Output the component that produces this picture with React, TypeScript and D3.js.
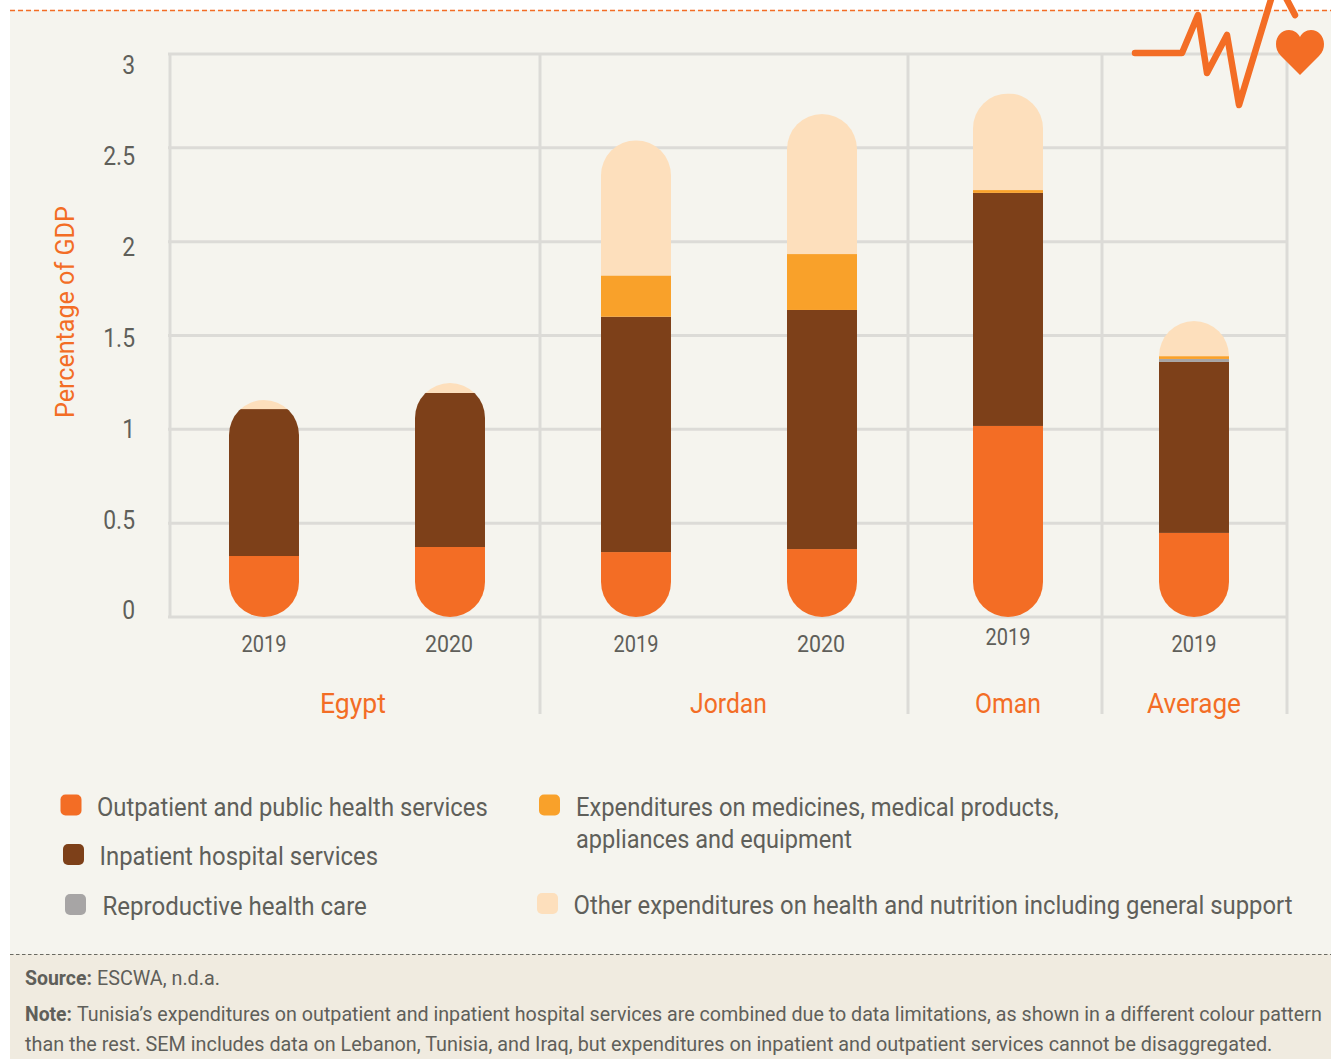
import React, { useLayoutEffect, useRef } from 'react';
import * as d3 from 'd3';

const countries = ['Egypt', 'Egypt', 'Jordan', 'Jordan', 'Oman', 'Average'];
const years = ['2019', '2020', '2019', '2020', '2019', '2019'];
const outpatient = [0.325, 0.373, 0.346, 0.362, 1.018, 0.448];
const inpatient = [0.783, 0.821, 1.254, 1.274, 1.242, 0.911];
const reproductive = [0, 0, 0, 0, 0, 0.016];
const medicines = [0, 0, 0.22, 0.298, 0.015, 0.015];
const other = [0.048, 0.053, 0.72, 0.746, 0.515, 0.187];
const seriesKeys = ['outpatient', 'inpatient', 'reproductive', 'medicines', 'other'];
const yTicks = [0, 0.5, 1, 1.5, 2, 2.5, 3];

const ORANGE = '#f36d25';
const TEXT = '#5f5f5a';
const GRID = '#dcdbd7';
const colors = d3.scaleOrdinal<string>().domain(seriesKeys)
  .range([ORANGE, '#7d4019', '#a7a5a5', '#f9a12a', '#fddfbc']);

const FONT = 'Roboto, sans-serif';

const rows = years.map((_, i) => ({
  id: i,
  outpatient: outpatient[i],
  inpatient: inpatient[i],
  reproductive: reproductive[i],
  medicines: medicines[i],
  other: other[i],
}));

const stacked = d3.stack<any>().keys(seriesKeys)(rows);

const x = d3.scaleBand<number>().domain(rows.map(r => r.id)).range([171, 1287])
  .paddingInner(0.6237).paddingOuter(0.31185);
const y = d3.scaleLinear().domain([0, 3]).range([617, 54]);
// the tick labels sit on a slightly tighter spacing than the gridlines
const yLabel = d3.scaleLinear().domain([0, 3]).range([619.5, 74.5]);

const totals = rows.map((_, i) => stacked[stacked.length - 1][i][1]);

type LabelProps = {
  x: number; y: number; w: number; size?: number; fill?: string; weight?: number; children: string; rotate?: boolean;
};

// The original face is condensed, so squeeze Roboto to the measured run with a scale
function Label({ x: px, y: py, w, size = 26, fill = TEXT, weight = 400, children, rotate }: LabelProps) {
  const ref = useRef<SVGTextElement>(null);
  useLayoutEffect(() => {
    const el = ref.current;
    if (!el) return;
    const k = w / el.getComputedTextLength();
    el.setAttribute('transform', `translate(${px},${py})${rotate ? ' rotate(-90)' : ''} scale(${k},1)`);
  }, [px, py, w, rotate, children]);
  return (
    <text ref={ref} fontFamily={FONT} fontSize={size} fontWeight={weight} fill={fill}>
      {children}
    </text>
  );
}

function Swatch({ x: px, y: py, k }: { x: number; y: number; k: string }) {
  return <rect x={px} y={py} width={21} height={21} rx={5} fill={colors(k)} />;
}

export default function App() {
  const bw = x.bandwidth();
  return (
    <svg width={1331} height={1059} style={{ position: 'absolute', left: 0, top: 0 }}>
      <rect x={10} y={10} width={1321} height={944} fill="#f5f4ee" />
      <rect x={10} y={954} width={1321} height={105} fill="#f0ebe0" />
      <line x1={10} x2={1331} y1={10.5} y2={10.5} stroke={ORANGE} strokeWidth={1.5} strokeDasharray="5 3" />
      <line x1={10} x2={1331} y1={954.5} y2={954.5} stroke="#6a6a62" strokeWidth={1.2} strokeDasharray="3.5 2.5" />

      {/* grid */}
      {yTicks.map(t => (
        <line key={t} x1={168} x2={1288} y1={y(t)} y2={y(t)} stroke={GRID} strokeWidth={3} />
      ))}
      <line x1={170} x2={170} y1={53} y2={618} stroke={GRID} strokeWidth={3} />
      {[540, 908, 1102, 1287].map(v => (
        <line key={v} x1={v} x2={v} y1={53} y2={714} stroke={GRID} strokeWidth={3} />
      ))}

      {/* bars */}
      <defs>
        {rows.map((r, i) => (
          <clipPath id={`bar-${i}`} key={i}>
            <rect x={x(r.id)} y={y(totals[i])} width={bw} height={y(0) - y(totals[i])} rx={bw / 2} />
          </clipPath>
        ))}
      </defs>
      {rows.map((r, i) => (
        <g key={i} clipPath={`url(#bar-${i})`}>
          {stacked.map(s => (
            <rect
              key={s.key}
              x={x(r.id)}
              y={y(s[i][1])}
              width={bw}
              height={y(s[i][0]) - y(s[i][1])}
              fill={colors(s.key)}
            />
          ))}
        </g>
      ))}

      {/* y axis */}
      {yTicks.map(t => (
        <text key={t} x={135} y={yLabel(t)} textAnchor="end" fontFamily={FONT} fontSize={26} fill={TEXT}
          transform={`translate(${135 * 0.12},0) scale(0.88,1)`}>
          {String(t)}
        </text>
      ))}
      <Label x={74} y={418} w={212} rotate fill={ORANGE}>Percentage of GDP</Label>

      {/* x axis */}
      {rows.map((r, i) => {
        const w = years[i] === '2020' ? 48 : 45;
        return (
          <Label
            key={i}
            x={x(r.id)! + bw / 2 - w / 2 - (years[i] === '2020' ? 1 : 0)}
            y={countries[i] === 'Oman' ? 645 : 652}
            w={w}
            size={24}
          >
            {years[i]}
          </Label>
        );
      })}
      <Label x={320} y={713} w={66} size={28} fill={ORANGE}>Egypt</Label>
      <Label x={690} y={713} w={77} size={28} fill={ORANGE}>Jordan</Label>
      <Label x={975} y={713} w={66} size={28} fill={ORANGE}>Oman</Label>
      <Label x={1147} y={713} w={94} size={28} fill={ORANGE}>Average</Label>

      {/* legend */}
      <Swatch x={60.5} y={794.5} k="outpatient" />
      <Label x={97} y={816} w={391}>Outpatient and public health services</Label>
      <Swatch x={63} y={844} k="inpatient" />
      <Label x={99.5} y={865} w={278.5}>Inpatient hospital services</Label>
      <Swatch x={65} y={894} k="reproductive" />
      <Label x={102.5} y={915} w={264.5}>Reproductive health care</Label>
      <Swatch x={539} y={794.5} k="medicines" />
      <Label x={576} y={816} w={483}>Expenditures on medicines, medical products,</Label>
      <Label x={576} y={848} w={276}>appliances and equipment</Label>
      <Swatch x={537} y={893} k="other" />
      <Label x={573.5} y={914} w={719.5}>Other expenditures on health and nutrition including general support</Label>

      {/* footer */}
      <Label x={25} y={985} w={67} size={20} weight={700}>Source:</Label>
      <Label x={97} y={985} w={123} size={20}>ESCWA, n.d.a.</Label>
      <Label x={25} y={1021} w={47} size={20} weight={700}>Note:</Label>
      <Label x={77} y={1021} w={1246} size={20}>Tunisia’s expenditures on outpatient and inpatient hospital services are combined due to data limitations, as shown in a different colour pattern</Label>
      <Label x={25} y={1051} w={1248} size={20}>than the rest. SEM includes data on Lebanon, Tunisia, and Iraq, but expenditures on inpatient and outpatient services cannot be disaggregated.</Label>

      {/* pulse and heart */}
      <path d="M1135,53 L1182,53 L1198,15 L1207,73 L1227,35 L1239,105 L1272,-4" fill="none" stroke={ORANGE} strokeWidth={6.5} strokeLinecap="round" strokeLinejoin="round" />
      <path d="M1285,-4 L1295,15" fill="none" stroke={ORANGE} strokeWidth={6.5} strokeLinecap="round" />
      <path d="M1300,75 L1281,56 C1277,52 1276,48 1276,44 C1276,36 1282,30 1289,30 C1294,30 1298,33 1300,37 C1302,33 1306,30 1311,30 C1318,30 1324,36 1324,44 C1324,48 1323,52 1319,56 Z" fill={ORANGE} />
    </svg>
  );
}
